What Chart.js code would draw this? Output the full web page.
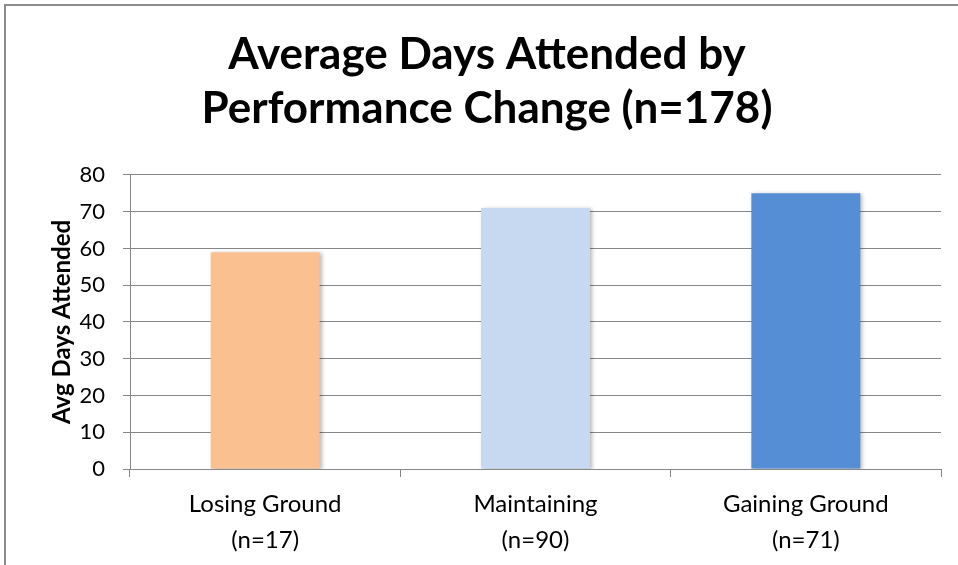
<!DOCTYPE html>
<html>
<head>
<meta charset="utf-8">
<script src="https://cdn.jsdelivr.net/npm/chart.js@4.4.0/dist/chart.umd.min.js"></script>
<style>
  html, body { margin: 0; padding: 0; background: #fff; overflow: hidden; }
  .frame {
    position: absolute; left: 4px; top: 4px;
    width: 1000px; height: 600px;
    border-left: 2px solid #8c8c8c; border-top: 2px solid #8c8c8c;
  }
  #chart { position: absolute; left: 0; top: 0; }
</style>
</head>
<body>
<div class="frame"><canvas id="chart" width="962" height="559"></canvas></div>
<script>
const categories = [['Losing Ground', '(n=17)'], ['Maintaining', '(n=90)'], ['Gaining Ground', '(n=71)']];
const avgDays = [59, 71, 75];
const barColors = ['#FAC090', '#C6D9F1', '#558ED5'];
const yTicks = [0, 10, 20, 30, 40, 50, 60, 70, 80];

const gridGray = '#878787';

// soft shadow behind the bars, like the office chart
const barShadow = {
  id: 'barShadow',
  beforeDatasetsDraw(chart) {
    const c = chart.ctx;
    c.save();
    c.shadowColor = 'rgba(0,0,0,0.28)';
    c.shadowBlur = 4;
    c.shadowOffsetX = 2;
    c.shadowOffsetY = 1;
  },
  afterDatasetsDraw(chart) {
    chart.ctx.restore();
  }
};

const ctx = document.getElementById('chart').getContext('2d');
new Chart(ctx, {
  type: 'bar',
  data: {
    labels: categories,
    datasets: [{
      data: avgDays,
      backgroundColor: barColors,
      borderWidth: 0,
      barPercentage: 0.403,
      categoryPercentage: 1
    }]
  },
  options: {
    responsive: false,
    animation: false,
    layout: { padding: { left: 27, right: 27, top: 0, bottom: 0 } },
    plugins: {
      legend: { display: false },
      tooltip: { enabled: false },
      title: {
        display: true,
        text: ['Average Days Attended by', 'Performance Change (n=178)'],
        color: '#000',
        font: { family: 'Lato', size: 44, weight: 'bold', lineHeight: 1.227 },
        padding: { top: 22, bottom: 39 }
      }
    },
    scales: {
      x: {
        grid: { drawOnChartArea: false, drawTicks: true, tickLength: 8, offset: true, color: gridGray },
        border: { color: gridGray, width: 1 },
        ticks: { color: '#000', padding: 9, font: { family: 'Lato', size: 24, lineHeight: 1.5 } },
        afterFit: s => { s.height = 96; }
      },
      y: {
        min: 0,
        max: 80,
        afterBuildTicks: s => { s.ticks = yTicks.map(v => ({ value: v })); },
        grid: { color: gridGray, tickLength: 7 },
        border: { color: gridGray, width: 1 },
        ticks: { color: '#000', padding: 18, font: { family: 'Lato', size: 22 } },
        title: {
          display: true,
          text: 'Avg Days Attended',
          color: '#000',
          font: { family: 'Lato', size: 24, weight: 'bold', lineHeight: 1.2 },
          padding: { top: 15, bottom: 0 }
        },
        afterFit: s => { s.width = 97; }
      }
    }
  },
  plugins: [barShadow]
});
</script>
</body>
</html>
